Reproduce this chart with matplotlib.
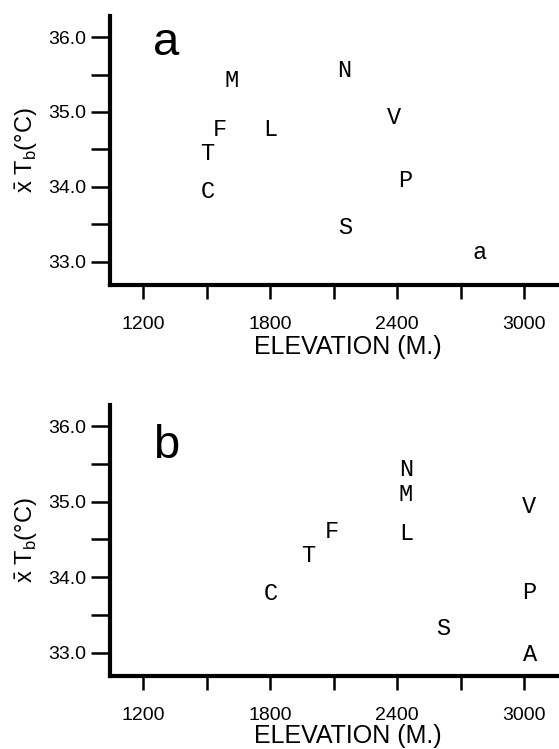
import numpy as np
import matplotlib.pyplot as plt
from matplotlib.ticker import MultipleLocator

plt.rcParams['font.family'] = ['Liberation Sans', 'DejaVu Sans']
plt.rcParams['mathtext.fontset'] = 'custom'
plt.rcParams['mathtext.rm'] = 'Liberation Sans'
plt.rcParams['mathtext.it'] = 'Liberation Sans'

# panel a : mean Tb vs elevation
labels_a = ['M', 'F', 'T', 'C', 'L', 'N', 'V', 'P', 'S', 'a']
elev_a = [1619, 1564, 1504, 1504, 1803, 2151, 2387, 2438, 2157, 2792]
tb_a = [35.42, 34.76, 34.44, 33.94, 34.76, 35.56, 34.92, 34.09, 33.46, 33.13]

# panel b
labels_b = ['C', 'T', 'F', 'N', 'M', 'L', 'S', 'V', 'P', 'A']
elev_b = [1805, 1981, 2091, 2442, 2442, 2442, 2619, 3025, 3025, 3028]
tb_b = [33.78, 34.29, 34.60, 35.43, 35.09, 34.58, 33.32, 34.94, 33.80, 32.98]

fig = plt.figure(figsize=(5.59, 7.49), dpi=100)
ax1 = fig.add_axes([0.197, 0.6195, 0.803, 0.359])
ax2 = fig.add_axes([0.197, 0.0975, 0.803, 0.3618])

for ax, labs, xs, ys, tag, tagy, xly in [(ax1, labels_a, elev_a, tb_a, 'a', 0.855, -0.23),
                                         (ax2, labels_b, elev_b, tb_b, 'b', 0.804, -0.22)]:
    for lab, x, y in zip(labs, xs, ys):
        ax.text(x, y, lab, fontsize=17, family='Liberation Mono',
                ha='center', va='center')
    ax.text(0.096, tagy, tag, transform=ax.transAxes, fontsize=34,
            ha='left', va='baseline')

    ax.set_xlim(1044, 3165)
    ax.set_ylim(32.69, 36.28)
    ax.spines['top'].set_visible(False)
    ax.spines['right'].set_visible(False)
    ax.spines['left'].set_linewidth(3)
    ax.spines['bottom'].set_linewidth(3)

    ax.xaxis.set_major_locator(MultipleLocator(600))
    ax.xaxis.set_minor_locator(MultipleLocator(300))
    ax.set_xticks([1200, 1800, 2400, 3000])
    ax.yaxis.set_major_locator(MultipleLocator(1.0))
    ax.yaxis.set_minor_locator(MultipleLocator(0.5))
    ax.yaxis.set_major_formatter(plt.FormatStrFormatter('%.1f'))

    ax.tick_params(axis='x', which='both', length=10, width=1.8,
                   labelsize=14, pad=12)
    ax.tick_params(axis='y', which='both', length=14, width=1.8,
                   labelsize=14, pad=3)

    ax.set_xlabel('ELEVATION (M.)', fontsize=18, va='center')
    ax.xaxis.set_label_coords(0.529, xly)
    ax.set_ylabel(r'$\bar{\mathrm{x}}\ \mathrm{T_b(°C)}$', fontsize=17, labelpad=6)

fig.savefig('out.png', dpi=100)
